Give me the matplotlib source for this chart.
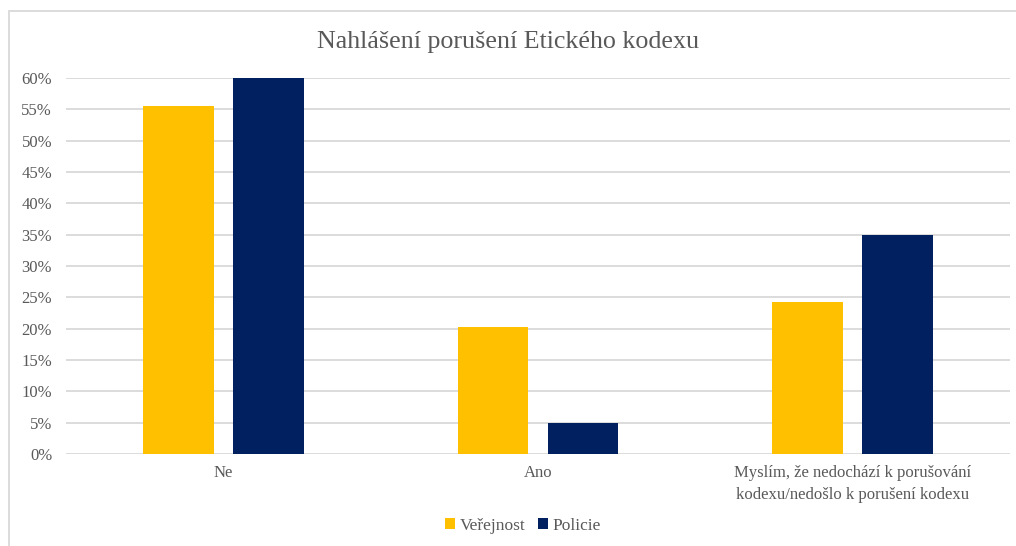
import matplotlib
matplotlib.use("Agg")
import matplotlib.pyplot as plt
from matplotlib.patches import Rectangle
import numpy as np

categories = ["Ne", "Ano",
              "Myslím, že nedochází k porušování\nkodexu/nedošlo k porušení kodexu"]
verejnost = [55.5, 20.3, 24.3]
policie = [60.0, 5.0, 35.0]
series_names = ["Veřejnost", "Policie"]
yticks = list(range(0, 65, 5))

GOLD = "#FFC000"
NAVY = "#002060"
TXT = "#595959"
plt.rcParams["font.family"] = ["Liberation Serif", "DejaVu Serif"]

fig = plt.figure(figsize=(10.16, 5.46), dpi=100)
ax = fig.add_axes([0.065, 0.1685, 0.929, 0.6885])

x = np.arange(len(categories))
w = 0.225
off = 0.143
ax.bar(x - off, verejnost, w, color=GOLD, label=series_names[0], zorder=3)
ax.bar(x + off, policie, w, color=NAVY, label=series_names[1], zorder=3)

ax.set_xlim(-0.5, len(categories) - 0.5)
ax.set_ylim(0, 60)
ax.set_yticks(yticks)
ax.set_yticklabels([f"{t}%" for t in yticks], fontsize=12, color=TXT)
ax.set_xticks(x)
ax.set_xticklabels(categories, fontsize=12, color=TXT, linespacing=1.45)
ax.tick_params(length=0, axis="y", pad=10)
ax.tick_params(length=0, axis="x", pad=8)
ax.grid(axis="y", color="#d9d9d9", linewidth=1.3, zorder=0)
for s in ax.spines.values():
    s.set_visible(False)

fig.text(0.5, 1 - 42 / 546, "Nahlášení porušení Etického kodexu",
         ha="center", va="center", fontsize=18.7, color=TXT)

ax.legend(loc="center", bbox_to_anchor=(0.484, -0.191), ncol=2, frameon=False,
          fontsize=12.5, handlelength=0.6, handleheight=0.6, handletextpad=0.25,
          columnspacing=0.7, labelcolor=TXT)

# chart outer border
fig.patches.append(Rectangle((8.5 / 1016, -0.01), 1.1, 1 - 11 / 546 + 0.01,
                             transform=fig.transFigure, fill=False,
                             edgecolor="#d9d9d9", linewidth=1.3))

fig.savefig("out.png", dpi=100)
